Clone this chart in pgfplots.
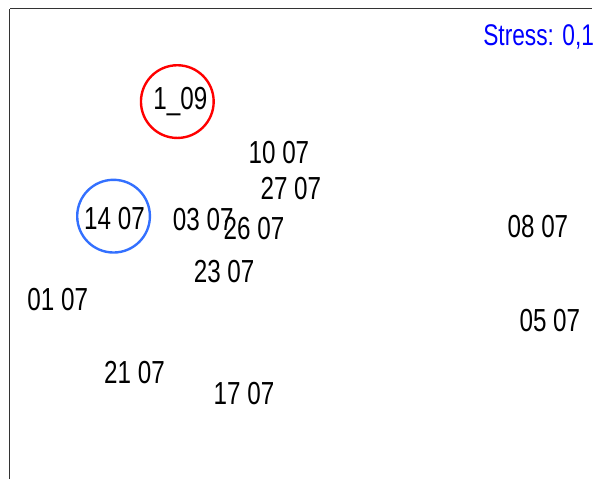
\documentclass[border=0pt]{standalone}
\usepackage{fontspec}
\setmainfont{Liberation Sans}[FakeStretch=0.76]
\usepackage{pgfplots}
\pgfplotsset{compat=1.18}
\begin{document}
\begin{tikzpicture}
\begin{axis}[
  scale only axis, width=584pt, height=472pt,
  xmin=10, xmax=594, ymin=0, ymax=472,
  axis x line*=top, axis y line*=left,
  axis line style={-, draw=black!80, line width=1pt},
  xtick=\empty, ytick=\empty,
  clip=false,
]
\path (axis cs:0,0) rectangle (axis cs:594,481);
\addplot[only marks, mark=none, point meta=explicit symbolic,
  nodes near coords, nodes near coords align={anchor=center},
  every node near coord/.append style={font=\fontsize{32}{36}\selectfont, text=black, inner sep=0pt}]
coordinates {
(181,379) [1\_09]
(280,328) [10 07]
(292,292) [27 07]
(115,262) [14 07]
(204,261) [03 07]
(255,252) [26 07]
(540,254) [08 07]
(225,208) [23 07]
(58,180) [01 07]
(552,159) [05 07]
(135,107) [21 07]
(245,86) [17 07]
};
\addplot[only marks, mark=o, mark size=36.5pt, mark options={draw=red, line width=2.4pt}] coordinates {(178,379)};
\addplot[only marks, mark=o, mark size=36.5pt, mark options={draw=blue!70!cyan!80!white, line width=2.4pt}] coordinates {(114,264)};
\node[anchor=west, text=blue, font=\fontsize{30}{34}\selectfont, inner sep=0pt] at (axis cs:485,444) {Stress: 0,1};
\end{axis}
\end{tikzpicture}
\end{document}
